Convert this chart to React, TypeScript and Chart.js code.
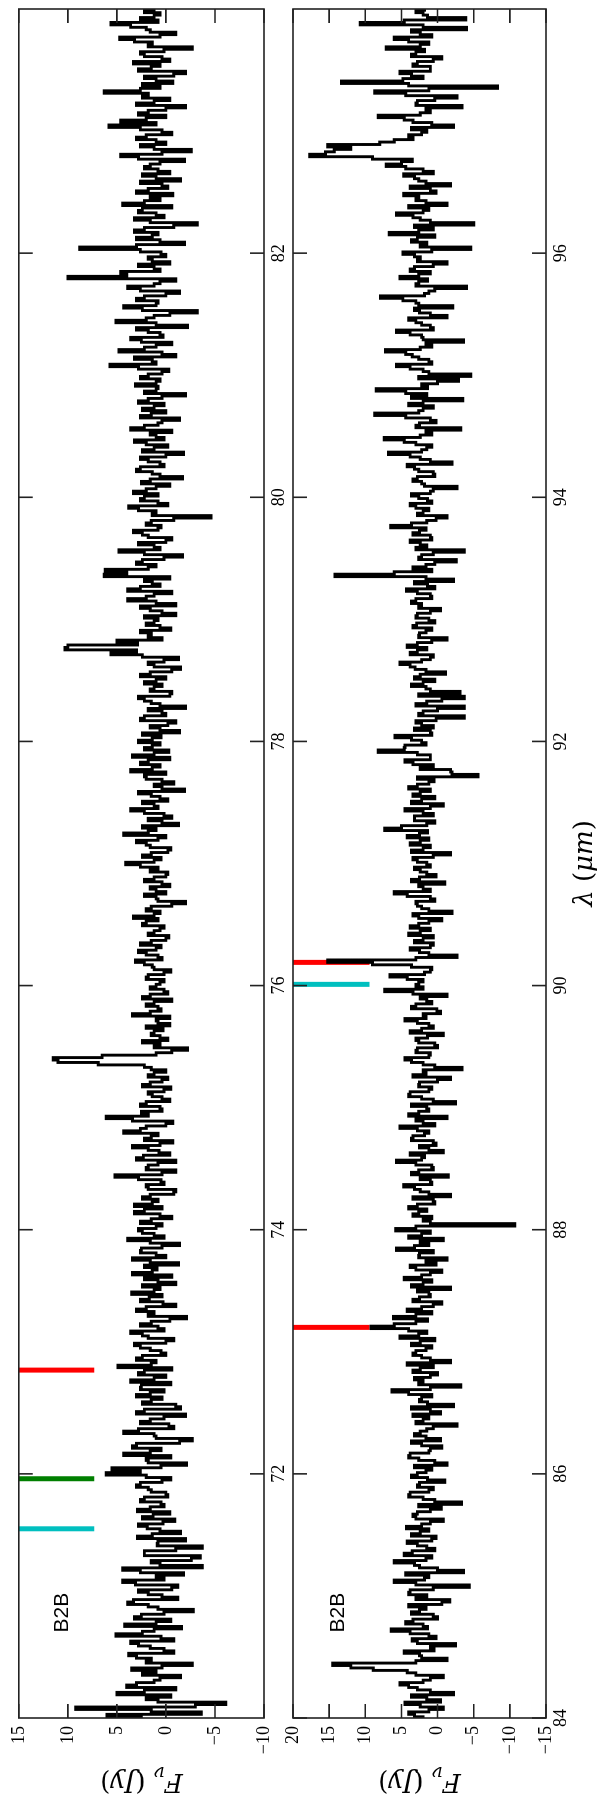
import React, { useEffect, useRef } from "react";
import { Chart, registerables } from "chart.js";

Chart.register(...registerables);

// ---------- data ----------
const STEP = 0.04; // main sampling (µm); mid arrays sit half a step later
const START_1 = 70;
const START_2 = 84;

// flux (Jy) at 70.00, 70.04, ... 84.00 µm
const flux1 = [
  2.5, -3.6, 9.2, -6.1, 2.0, 5.0, -1.0, 3.0, 0.6, 2.4, 3.5, -2.7, 1.5, 3.8, 0.2, 2.8, -0.8, 5.1, 1.2, 4.2, -0.5, 2.5, -2.8, 1.8, 3.3,
  0.4, 2.8, -1.2, 4.4, 1.0, 2.6, -3.7, 1.5, -3.5, 2.2, -3.7, 0.8, 2.9, -1.5, 1.9, 0.3, 2.4, -0.4, 1.6, 0.5, 2.2, 0.0, 1.8, 2.6, -0.5,
  6.1, 5.5, -2.1, 2.0, 4.3, 0.5, 3.0, -2.7, 1.2, 2.8, -0.3, 1.6, -2.0, 2.2, -1.0, 1.5, 3.0, 0.2, 2.5, 3.6, 0.0, 2.2, 4.9, 1.0, 2.4,
  0.5, 2.6, 0.0, 1.8, 3.6, 0.8, 1.5, -2.1, 1.2, 2.0, 0.3, 1.7, 3.5, 0.6, -1.0, 2.2, 3.4, 0.9, -1.3, 3.4, 1.0, 2.5, -1.4, 3.9, 1.2,
  2.8, 0.4, 1.5, 0.6, 2.2, 3.2, 0.8, 1.6, -1.0, 2.0, 0.5, 5.2, -1.0, 1.8, -1.0, 2.3, 0.7, 3.4, -0.7, 1.5, 4.3, 2.0, -0.7, 6.1, 2.5,
  0.6, 2.0, 0.4, 1.8, -0.5, 1.6, -0.2, 1.2, 1.5, 6.9, 11.5, 1.0, -2.2, 0.6, -0.2, 1.5, 0.3, -0.4, 1.0, 3.4, 0.5, 2.0, -0.6, 1.6, 0.2,
  1.0, 0.2, 1.8, -0.5, 1.4, 3.1, 0.8, 2.8, 0.5, 1.5, -0.3, 1.2, 0.2, 2.0, 3.3, 0.6, 1.5, -2.0, 1.0, 0.0, 1.6, 0.4, 1.2, -0.2, 0.8,
  4.1, 0.5, 1.5, -0.5, 2.0, 0.8, 4.3, 1.0, -1.3, 1.8, 0.2, 3.6, 1.2, -0.2, 1.5, -1.9, 1.2, 0.4, 2.2, 3.6, 0.6, 1.8, 3.4, -0.3, 1.4,
  2.8, 0.5, -1.4, 1.6, -1.0, 2.2, 0.4, -2.0, 1.5, 2.8, -0.6, 1.2, 2.2, 0.0, 1.6, -1.5, 1.8, -1.3, 5.6, 10.3, 2.9, 0.4, 1.5, -0.5, 2.0,
  0.8, -1.0, 1.6, -1.0, 3.9, 1.2, 3.9, 0.6, 2.2, 6.3, 6.2, 1.0, 2.4, -1.7, 4.8, 1.2, 0.0, 1.8, 3.3, 0.5, 1.5, -4.6, 1.0, 3.8, 0.8,
  2.2, 3.3, 1.0, 2.5, -1.7, 1.4, 2.6, 0.6, 2.6, -1.8, 1.2, 2.0, 0.2, 1.6, 3.6, 0.8, -1.4, 1.5, 2.4, 0.2, 1.8, -2.0, 1.0, 3.1, 0.6,
  1.8, -0.3, 5.7, 1.4, -1.0, 4.8, 1.0, 2.5, 0.3, 1.8, -2.2, 5.1, 1.2, -3.2, 4.3, 0.8, 2.2, -1.4, 3.9, 0.6, 10.0, 4.6, 1.2, -0.4, 1.8,
  0.5, 8.8, -1.9, 3.0, 0.8, 2.2, -3.2, 3.2, 1.0, 2.4, 4.4, 0.6, -0.7, 1.8, 0.4, -1.5, 2.4, 0.8, 1.6, -1.9, 4.6, -2.6, 2.6, 1.0, 2.0,
  0.4, 5.8, 4.6, 0.0, 1.8, -2.0, 1.2, 2.4, 6.3, 0.6, -0.7, 2.2, -2.0, 1.5, 3.3, 0.4, 2.6, -2.7, 1.4, 4.7, -1.0, 2.0, 5.6, 2.6, 0.6,
  1.2,
];
// flux (Jy) at 70.02, 70.06, ... 83.98 µm
const flux1Mid = [
  6.0, 1.5, -3.0, 0.8, -0.5, 2.2, 4.0, 1.2, -1.5, 1.0, 0.4, 2.0, 3.0, -0.8, 1.6, 3.6, 0.5, 2.4, -1.6, 1.0, 3.2, 0.2, 0.8, 3.9, -1.2,
  1.8, -0.6, 3.1, 0.2, -1.8, 4.4, 0.6, -2.6, 2.2, -1.0, 0.9, -2.0, 1.4, 0.6, 2.8, -0.9, 1.3, 2.9, 0.2, 2.6, -0.2, 1.5, 3.0, 0.4, 2.0,
  2.6, 0.5, 1.8, -0.5, 1.6, 3.4, -1.4, 1.0, 4.3, -0.8, 2.6, 0.2, 3.0, -1.5, 2.4, 0.4, 1.6, 2.6, -0.5, 1.2, 2.8, -0.6, 1.5, 3.0, 0.0,
  1.6, 3.2, -0.8, 2.4, 0.2, 2.6, -0.4, 1.8, 3.0, -1.0, 2.6, 0.4, 1.2, 2.4, 0.8, -0.6, 1.4, 2.2, 1.6, 0.0, 2.6, 0.4, 1.6, 0.2, 2.4,
  1.0, 2.6, -0.6, 3.2, 0.4, 1.4, 2.4, -0.8, 1.8, 0.2, 2.8, 0.4, 2.0, 0.8, 3.0, -0.4, 1.8, 0.6, 2.2, 0.8, 2.6, 0.0, 3.4, 1.8, 0.4,
  2.6, -0.4, 1.4, 0.2, 2.4, 0.4, 1.8, 0.0, 2.2, 11.0, 6.5, -0.6, 1.2, 2.4, 0.6, 1.2, 2.0, 0.8, -0.4, 1.6, 0.8, 1.2, 2.4, -0.2, 1.6,
  0.6, 2.0, 0.2, 1.2, 2.2, 0.4, 2.0, 1.0, 2.6, 0.0, 1.8, 0.6, 2.4, 0.8, 1.2, 2.0, -0.6, 0.8, 2.2, 1.0, -0.4, 2.2, 0.0, 1.6, 2.6,
  1.2, 2.4, -0.2, 1.6, 3.0, 0.0, 1.8, 2.4, 0.4, -0.6, 2.2, 0.8, 2.4, 0.6, 2.8, 0.4, -0.8, 2.0, 0.0, 1.4, 2.6, -0.4, 1.2, 2.2, 0.6,
  1.4, 2.4, 0.6, -0.2, 2.6, 0.0, 1.8, 0.6, 2.2, -0.4, 1.6, 0.4, 1.0, 2.6, -0.6, 1.2, 0.2, 2.4, 3.0, 10.0, 5.0, 1.8, 2.6, 0.6, 1.2,
  2.2, 0.4, 2.6, 1.0, 2.0, -0.6, 2.6, 1.4, -0.4, 4.0, 1.8, 3.0, 0.2, 2.2, 0.6, 2.8, -0.6, 2.4, 0.8, 2.0, -0.8, 1.4, 2.8, -0.2, 2.6,
  0.8, 2.0, -0.4, 1.6, 0.6, 3.0, 0.2, 1.8, 0.0, 2.4, -0.2, 3.2, 1.0, -0.6, 2.2, 0.4, 2.6, 0.0, 1.2, 2.8, 0.4, 2.2, 0.8, 1.0, 2.6,
  0.4, 2.8, 1.0, 3.2, 0.4, 2.2, -0.6, 3.6, 0.6, 3.0, 1.0, 2.0, -0.4, 2.4, 1.0, 3.0, 0.0, 2.6, 1.2, -1.0, 4.0, 0.6, 2.8, 1.4, 0.0,
  2.6, 3.0, 0.6, 1.4, 3.2, -0.8, 1.6, 0.2, 2.8, -0.6, 2.2, 1.6, 3.0, -0.2, 2.6, 1.0, -0.4, 2.2, 0.6, 2.8, 0.4, 1.2, 0.0, 3.0, -0.6,
  2.6, 1.0, 2.0, 2.8, 0.0, 3.0, -0.4, 1.8, 2.6, 2.4, 1.0, -0.8, 2.8, 0.6, -0.4, 2.2, 0.2, 1.8, 3.2, 0.6, 1.6, 3.6, 0.8, 1.2, 2.2,
];

// flux (Jy) at 84.00, 84.04, ... 98.00 µm
const flux2 = [
  2.0, 4.0, -0.8, 4.5, 1.5, -2.2, 2.8, 5.2, 1.0, 3.0, 8.9, 14.5, -1.3, 2.5, 0.5, -2.5, 3.5, 1.2, 6.4, 2.0, 3.4, 0.6, 2.5, 4.0, -1.7,
  1.5, 3.8, -4.4, 6.0, 1.2, -3.6, 2.5, 6.0, 0.8, 3.5, 1.5, 4.2, 0.2, 2.4, 4.3, 1.0, 3.0, 2.8, -0.5, -3.3, 2.0, 3.8, 0.6, 2.5, 1.4,
  2.8, 0.8, -1.3, 2.6, 3.8, 1.0, 2.2, -0.4, 3.2, 1.5, -2.7, 2.0, 3.4, 1.0, -2.2, 2.5, 0.8, 6.3, -3.2, 2.0, 1.0, 3.4, 0.6, -1.8, 2.2,
  3.0, 0.8, 2.4, 5.2, 1.5, 9.2, 3.0, 6.1, 0.8, 2.2, -0.6, 2.5, 1.2, -1.8, 2.0, 4.6, 1.0, 3.0, 0.2, -1.3, 2.5, 5.7, 1.2, -0.8, 2.2,
  5.8, -10.7, 2.0, 3.4, 1.5, 2.8, 0.6, -1.8, 2.4, 4.7, 1.0, -1.5, 2.6, 0.8, 5.7, 1.8, -0.8, 2.5, 0.6, 3.4, 1.2, 5.2, 2.0, -1.3, 2.6,
  1.5, -2.5, 2.2, 3.8, 0.8, 2.5, -1.8, 1.6, -3.4, 2.0, 4.5, 1.0, 2.8, 0.4, 3.0, -0.8, 2.2, 1.2, 4.5, 2.0, 0.1, 3.0, 1.5, -1.3, 7.3,
  3.0, 2.0, 6.6, 1.0, 3.6, 15.2, -2.7, 2.5, 1.0, 3.2, 0.6, 2.4, 3.8, 1.2, 2.6, -2.0, 2.2, 3.0, 1.0, 6.0, 2.0, -1.0, 2.5, 1.5, 3.2,
  1.5, 3.4, -1.8, 2.0, 3.8, 1.2, 2.5, 7.3, 1.5, 3.2, 0.6, 4.5, -0.8, 2.2, 3.4, 1.0, 2.8, 0.5, -5.6, -1.8, 0.6, 4.5, 1.0, 8.2, 4.5,
  2.2, 5.9, 1.0, 0.6, 3.0, -3.7, 2.0, -3.7, 1.5, -3.7, -3.1, 1.6, 2.0, 3.2, -1.1, 3.1, 5.2, 1.0, 3.8, 1.5, 2.8, -1.3, 2.5, 0.8, 2.9,
  1.2, 2.8, -0.4, 2.2, 3.0, 1.0, 4.3, 1.4, -2.2, 14.2, 0.8, 1.6, -2.6, 2.2, -3.7, 1.5, 3.8, 1.0, 2.5, 6.5, 1.5, -1.3, 2.0, 3.0, 0.8,
  2.6, 1.0, -2.7, 2.2, 2.8, 0.6, 3.2, -2.0, 2.4, 6.8, 1.5, 3.0, 7.4, 0.8, -3.2, 2.5, 1.0, 8.7, 2.0, 4.0, -3.5, 1.5, 8.5, 2.2, -2.9,
  -4.6, 2.0, 5.7, 1.2, 3.5, 7.2, 0.8, -3.6, 2.2, 5.7, 1.0, 3.0, -1.3, 2.5, -2.1, 3.0, 7.9, 1.2, -4.0, 2.6, 5.2, 1.0, 3.2, -1.3, 2.4,
  4.8, -4.6, 1.5, 2.8, 6.7, 0.6, -5.0, 2.4, 5.7, 1.2, -1.3, 3.0, 4.7, 1.0, -1.8, 2.6, 4.7, 2.0, 7.1, 3.5, 17.7, 14.3, 15.2, 6.0, 4.0,
  1.5, -2.2, 3.4, 8.2, 1.0, -3.4, 2.8, -2.7, 8.7, -8.3, 13.3, 2.0, 5.2, 1.0, 2.8, -0.6, 3.0, 7.1, 1.2, 6.0, 2.4, -4.0, 10.7, -3.9, 2.0,
  1.8,
];
// flux (Jy) at 84.02, 84.06, ... 97.98 µm
const flux2Mid = [
  3.2, 1.2, 2.4, -0.4, 3.6, 1.0, 4.0, 2.0, -0.8, 4.2, 12.0, 3.0, 2.2, 4.6, 1.0, 2.8, 0.2, 3.8, 1.4, 4.4, 0.0, 3.6, 1.6, -0.6, 3.0,
  4.0, 0.6, 3.0, 1.8, 4.4, 0.0, 3.2, 1.6, 4.6, 0.4, 2.8, 0.8, 3.6, 1.2, 2.2, -0.8, 3.4, 1.0, 2.6, 0.4, 4.0, 1.2, 2.8, -1.0, 3.6,
  1.6, 3.2, 0.4, 4.0, 1.2, -0.6, 3.6, 1.6, 2.4, 0.6, 3.0, 1.2, -0.4, 3.6, 1.4, 2.2, 4.0, 1.0, 2.6, 3.2, 0.0, 2.4, 4.2, 1.0, 3.4,
  1.6, 3.6, 0.4, 2.6, 4.0, 6.0, 1.4, 3.0, 4.2, 0.6, 3.4, 1.0, 2.8, 3.6, 0.8, 2.2, -0.6, 3.8, 1.6, 2.6, 0.6, 3.2, 2.4, 4.0, 1.0,
  3.0, 1.0, 0.8, 2.6, 4.0, 0.4, 3.4, 1.2, 3.2, 0.8, 2.4, 3.6, 0.6, 3.0, 2.2, 3.8, 1.2, 0.2, 3.6, 1.8, 2.8, 0.4, 3.0, 4.0, 1.2,
  3.6, 0.6, 4.0, 1.2, 2.6, 0.0, 3.4, 2.0, 0.4, 3.6, 1.2, 3.0, 0.0, 2.6, 1.4, 3.8, 0.6, 2.8, 1.6, -0.4, 3.6, 0.8, 2.4, 3.4, 2.0,
  2.6, 4.2, 1.8, 0.8, 9.0, 3.0, 1.2, 3.8, 0.6, 2.0, 4.0, 1.0, 2.6, -0.6, 3.4, 1.2, 2.8, 0.4, 4.2, 1.0, 2.6, 3.6, 0.2, 2.4, 1.0,
  2.8, 0.6, 3.6, 1.0, 2.4, 4.2, 1.4, 5.0, 0.4, 3.2, 2.0, 1.0, 3.6, 0.4, 2.4, 4.0, 1.2, 2.8, -2.0, 2.4, 3.4, 1.0, 2.8, 4.6, 1.6,
  3.6, 0.8, 3.2, 2.2, 0.2, 2.6, 0.0, 3.0, -0.6, 2.6, 1.0, 3.6, 0.4, 2.4, 1.6, 3.8, 2.2, 0.6, 2.8, 4.2, 0.8, 2.6, 1.6, 3.4, 0.4,
  3.0, 1.0, 2.6, 3.6, 0.8, 2.8, 0.4, 3.2, 1.6, 6.0, 3.4, 0.4, 2.6, 0.6, 3.0, 2.4, 0.8, 3.4, 1.6, 3.6, 0.2, 2.8, 1.2, 3.8, 1.4,
  3.6, 0.6, 1.8, 3.4, 0.4, 2.6, 4.2, 1.0, 3.8, 2.2, 0.8, 4.6, 2.4, 1.6, 3.0, 0.2, 4.4, 2.6, 0.6, 2.0, 3.6, 4.4, 1.4, 0.0, 2.6,
  1.2, 3.8, 0.8, 2.6, 4.4, 2.4, 1.6, 2.0, 3.8, 0.6, 2.2, 4.0, 1.0, 3.2, 2.6, 4.8, 1.8, 0.4, 3.0, 1.4, 2.6, 3.8, 0.6, 2.8, 3.2,
  0.8, 2.4, 3.6, 0.4, 2.6, 3.2, 1.0, 3.4, 2.0, 4.0, 1.6, 2.6, 0.2, 3.8, 1.6, 3.2, 0.6, 4.4, 5.0, 9.0, 15.5, 12.0, 8.0, 3.4, 2.2,
  3.6, 0.8, 4.6, 2.4, 1.6, 3.0, 0.4, 4.4, 1.2, 4.0, 4.8, 3.6, 1.0, 3.4, 0.6, 3.6, 1.8, 2.4, 4.0, 0.8, 3.6, 2.0, 4.6, 1.4, 3.0,
];

const lamTicks1 = [72, 74, 76, 78, 80, 82];
const lamTicks2 = [84, 86, 88, 90, 92, 94, 96];
const fluxTicks1 = [15, 10, 5, 0, -5, -10];
const fluxTicks2 = [20, 15, 10, 5, 0, -5, -10, -15];

// line identification markers
const markLam1 = [71.55, 71.96, 72.85];
const markColor1 = ["#00bfbf", "#007f00", "#ff0000"];
const markLam2 = [90.01, 90.19, 87.2];
const markColor2 = ["#00bfbf", "#ff0000", "#ff0000"];
const markLow1 = 7.3;
const markLow2 = 9.4;

const SOURCE_LABEL = "B2B";

// ---------- helpers ----------
const fmt = (v: number) => (v < 0 ? "\u2212" + Math.abs(v) : String(v));
const TICK_FONT = { family: "'Liberation Serif', serif", size: 18 };
const TITLE_SIZE = 26;

function drawPieces(ctx: CanvasRenderingContext2D, pieces: { t: string; it: boolean; sub?: boolean }[], cx: number, cy: number) {
  const fontFor = (p: { it: boolean; sub?: boolean }) =>
    `${p.it ? "italic " : ""}${p.sub ? Math.round(TITLE_SIZE * 0.7) : TITLE_SIZE}px 'DejaVu Serif', serif`;
  let total = 0;
  const widths = pieces.map((p) => {
    ctx.font = fontFor(p);
    const w = ctx.measureText(p.t).width;
    total += w;
    return w;
  });
  let x = cx - total / 2;
  pieces.forEach((p, i) => {
    ctx.font = fontFor(p);
    ctx.fillText(p.t, x, cy + (p.sub ? TITLE_SIZE * 0.25 : 0));
    x += widths[i];
  });
}

const framePlugin = {
  id: "frame",
  afterDatasetsDraw(chart: any, _args: any, opts: any) {
    const { ctx, chartArea: a, scales } = chart;
    const xs = scales.x;
    const ys = scales.y;
    ctx.save();
    ctx.strokeStyle = "#222";
    ctx.lineWidth = 1.6;
    ctx.strokeRect(a.left, a.top, a.right - a.left, a.bottom - a.top);
    const L = 14;
    ctx.beginPath();
    xs.ticks.forEach((t: any) => {
      const p = xs.getPixelForValue(t.value);
      ctx.moveTo(p, a.bottom);
      ctx.lineTo(p, a.bottom - L);
      ctx.moveTo(p, a.top);
      ctx.lineTo(p, a.top + L);
    });
    ys.ticks.forEach((t: any) => {
      const p = ys.getPixelForValue(t.value);
      ctx.moveTo(a.left, p);
      ctx.lineTo(a.left + L, p);
      ctx.moveTo(a.right, p);
      ctx.lineTo(a.right - L, p);
    });
    ctx.stroke();

    // source label
    ctx.fillStyle = "#000";
    ctx.textAlign = "left";
    ctx.textBaseline = "alphabetic";
    ctx.font = "21px 'Liberation Sans', Arial, sans-serif";
    ctx.fillText(opts.label, a.left + 0.05 * (a.right - a.left), a.top + 0.2 * (a.bottom - a.top));

    // y title (vertical)
    ctx.save();
    ctx.translate(26, (a.top + a.bottom) / 2);
    ctx.rotate(-Math.PI / 2);
    drawPieces(
      ctx,
      [
        { t: "F", it: true },
        { t: "\u03bd", it: true, sub: true },
        { t: " (", it: false },
        { t: "Jy", it: true },
        { t: ")", it: false },
      ],
      0,
      0
    );
    ctx.restore();

    if (opts.xTitle) {
      drawPieces(
        ctx,
        [
          { t: "\u03bb", it: true },
          { t: " (", it: false },
          { t: "\u03bcm", it: true },
          { t: ")", it: false },
        ],
        (a.left + a.right) / 2,
        592
      );
    }
    ctx.restore();
  },
};

type PanelCfg = {
  start: number;
  flux: number[];
  fluxMid: number[];
  xMin: number;
  xMax: number;
  yMin: number;
  yMax: number;
  lamTicks: number[];
  fluxTicks: number[];
  markLam: number[];
  markColor: string[];
  markLow: number;
  padTop: number;
  axisH: number;
  xTitle: boolean;
};

function buildSpectrum(cfg: PanelCfg) {
  const pts: { x: number; y: number }[] = [];
  cfg.flux.forEach((f, i) => {
    const lam = cfg.start + i * STEP;
    pts.push({ x: +lam.toFixed(2), y: f });
    if (i < cfg.fluxMid.length) pts.push({ x: +(lam + STEP / 2).toFixed(2), y: cfg.fluxMid[i] });
  });
  return pts;
}

function PanelChart({ cfg }: { cfg: PanelCfg }) {
  const ref = useRef<HTMLCanvasElement | null>(null);
  useEffect(() => {
    if (!ref.current) return;
    const spectrum = buildSpectrum(cfg);
    const markers = cfg.markLam.map((lam, i) => ({
      data: [
        { x: lam, y: cfg.yMax },
        { x: lam, y: cfg.markLow },
      ],
      borderColor: cfg.markColor[i],
      borderWidth: 5,
      borderCapStyle: "butt",
      pointRadius: 0,
      fill: false,
    }));
    const chart = new Chart(ref.current, {
      type: "line",
      data: {
        datasets: [
          {
            data: spectrum,
            borderColor: "#000",
            borderWidth: 2.9,
            pointRadius: 0,
            stepped: "middle",
            fill: false,
          } as any,
          ...(markers as any[]),
        ],
      },
      options: {
        animation: false,
        responsive: false,
        maintainAspectRatio: false,
        devicePixelRatio: 1,
        events: [],
        layout: { padding: { top: cfg.padTop, right: 9, left: 0, bottom: 0 } },
        plugins: {
          legend: { display: false },
          tooltip: { enabled: false },
          frame: { label: SOURCE_LABEL, xTitle: cfg.xTitle },
        } as any,
        scales: {
          x: {
            type: "linear",
            min: cfg.xMin,
            max: cfg.xMax,
            afterBuildTicks: (s: any) => {
              s.ticks = cfg.lamTicks.map((v) => ({ value: v }));
            },
            afterFit: (s: any) => {
              s.height = cfg.axisH;
            },
            grid: { display: false, drawTicks: false },
            border: { display: false },
            ticks: {
              padding: 4,
              color: "#000",
              font: TICK_FONT,
              maxRotation: 0,
              minRotation: 0,
              autoSkip: false,
              callback: (v: any) => fmt(Number(v)),
            },
          },
          y: {
            type: "linear",
            min: cfg.yMin,
            max: cfg.yMax,
            afterBuildTicks: (s: any) => {
              s.ticks = cfg.fluxTicks.map((v) => ({ value: v }));
            },
            afterFit: (s: any) => {
              s.width = 82;
            },
            grid: { display: false, drawTicks: false },
            border: { display: false },
            ticks: {
              padding: 8,
              color: "#000",
              font: TICK_FONT,
              autoSkip: false,
              callback: (v: any) => fmt(Number(v)),
            },
          },
        },
      },
      plugins: [framePlugin as any],
    });
    return () => chart.destroy();
  }, [cfg]);
  return (
    <canvas
      ref={ref}
      width={1800}
      height={600}
      style={{ position: "absolute", left: 0, top: 0, width: 1800, height: 600 }}
    />
  );
}

const panel1: PanelCfg = {
  start: START_1,
  flux: flux1,
  fluxMid: flux1Mid,
  xMin: 70,
  xMax: 84,
  yMin: -10,
  yMax: 15,
  lamTicks: lamTicks1,
  fluxTicks: fluxTicks1,
  markLam: markLam1,
  markColor: markColor1,
  markLow: markLow1,
  padTop: 12,
  axisH: 336,
  xTitle: false,
};

const panel2: PanelCfg = {
  start: START_2,
  flux: flux2,
  fluxMid: flux2Mid,
  xMin: 84,
  xMax: 98,
  yMin: -15,
  yMax: 20,
  lamTicks: lamTicks2,
  fluxTicks: fluxTicks2,
  markLam: markLam2,
  markColor: markColor2,
  markLow: markLow2,
  padTop: 293,
  axisH: 54,
  xTitle: true,
};

export default function App() {
  return (
    <div
      style={{
        position: "absolute",
        left: 0,
        top: 0,
        width: 600,
        height: 1800,
        overflow: "hidden",
        background: "#fff",
      }}
    >
      <div
        style={{
          position: "absolute",
          left: 0,
          top: 0,
          width: 1800,
          height: 600,
          transformOrigin: "0 0",
          transform: "translateY(1800px) rotate(-90deg)",
        }}
      >
        <PanelChart cfg={panel1} />
        <PanelChart cfg={panel2} />
      </div>
    </div>
  );
}
